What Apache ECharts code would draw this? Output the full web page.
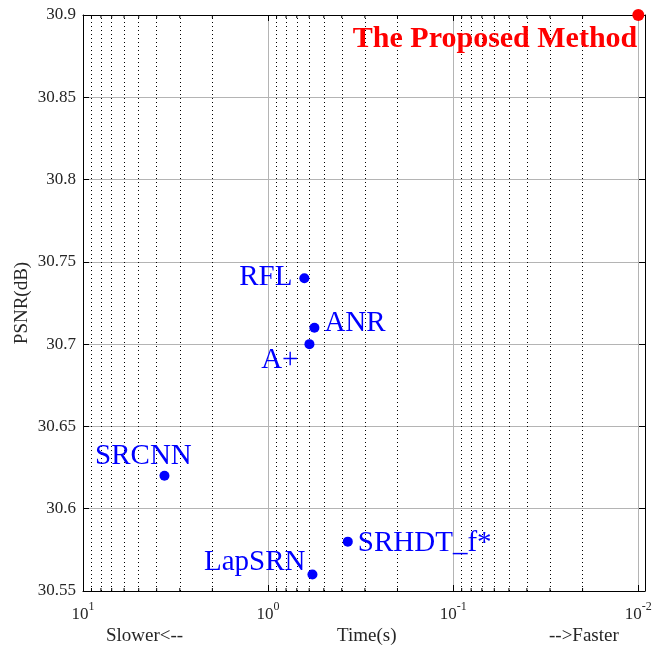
<!DOCTYPE html>
<html>
<head>
<meta charset="utf-8">
<script src="https://cdn.jsdelivr.net/npm/echarts@6/dist/echarts.min.js"></script>
<style>html,body{margin:0;padding:0;background:#fff;}#c{width:652px;height:654px;}</style>
</head>
<body>
<div id="c"></div>
<script>
// ---- data ----
const methods = ['RFL', 'ANR', 'A+', 'SRCNN', 'LapSRN', 'SRHDT_f*'];
const times   = [0.637, 0.562, 0.598, 3.63, 0.576, 0.371];
const psnr    = [30.74, 30.71, 30.70, 30.62, 30.56, 30.58];
const proposedName = ['The Proposed Method'];
const proposedTime = [0.01];
const proposedPsnr = [30.9];
const yTicks = [30.55, 30.6, 30.65, 30.7, 30.75, 30.8, 30.85, 30.9];
const decades = [0.01, 0.1, 1];
const minorMultipliers = [2, 3, 4, 5, 6, 7, 8, 9];

// minor log ticks (2..9 x each decade)
const minorVals = [];
decades.forEach(d => minorMultipliers.forEach(m => minorVals.push(+(d * m).toPrecision(3))));

// ---- label placement (style only) ----
const labelStyle = {
  'RFL':      { align: 'right', offset: [-12, -1] },
  'ANR':      { align: 'left',  offset: [10, -4] },
  'A+':       { align: 'right', offset: [-11, 16] },
  'SRCNN':    { align: 'center', offset: [-21, -19] },
  'LapSRN':   { align: 'right', offset: [-7, -12] },
  'SRHDT_f*': { align: 'left',  offset: [10, 2] }
};

const FONT = "'Liberation Serif', 'Times New Roman', serif";
const TXT = '#262626';

const chart = echarts.init(document.getElementById('c'), null, { renderer: 'canvas' });

function xLabel(v) {
  const l = Math.log10(v);
  const e = Math.round(l);
  if (Math.abs(l - e) > 1e-6) return '';
  return '{b|10}{s|' + e + '}';
}

const xCommon = {
  type: 'log', logBase: 10, min: 0.0092, max: 10, inverse: true
};

const blueData = methods.map((m, i) => ({
  value: [times[i], psnr[i]],
  name: m,
  label: {
    show: true, position: 'inside', formatter: m,
    align: labelStyle[m].align, offset: labelStyle[m].offset,
    color: '#0000ff', fontFamily: FONT, fontSize: 29, opacity: 1
  }
}));

const redData = proposedName.map((m, i) => ({
  value: [proposedTime[i], proposedPsnr[i]],
  name: m,
  label: {
    show: true, position: 'inside', formatter: m,
    align: 'right', offset: [-1, 24],
    color: '#ff0000', fontFamily: FONT, fontSize: 30, fontWeight: 'bold', opacity: 1
  }
}));

const yMin = yTicks[0], yMax = yTicks[yTicks.length - 1];
const minorTickBottom = minorVals.map(v => [v, yMin]);
const minorTickTop = minorVals.map(v => [v, yMax]);

chart.setOption({
  animation: false,
  backgroundColor: '#fff',
  grid: { left: 83, right: 7, top: 15, bottom: 63, show: false, containLabel: false, outerBoundsMode: 'none' },
  xAxis: [
    Object.assign({}, xCommon, {
      position: 'bottom',
      axisLine: { show: true, onZero: false, lineStyle: { color: '#000', width: 1 } },
      axisTick: { show: true, inside: true, length: 6, lineStyle: { color: '#000' } },
      minorTick: { show: false },
      splitLine: { show: true, lineStyle: { color: '#b4b4b4', width: 1 } },
      axisLabel: {
        show: true, margin: 10, formatter: xLabel, color: TXT, fontFamily: FONT,
        rich: {
          b: { fontSize: 17, lineHeight: 22, fontFamily: FONT, color: TXT, verticalAlign: 'bottom' },
          s: { fontSize: 12, lineHeight: 12, fontFamily: FONT, color: TXT, verticalAlign: 'top' }
        }
      }
    }),
    Object.assign({}, xCommon, {
      position: 'top',
      axisLine: { show: true, onZero: false, lineStyle: { color: '#000', width: 1 } },
      axisTick: { show: true, inside: true, length: 6, lineStyle: { color: '#000' } },
      splitLine: { show: false },
      axisLabel: { show: false }
    })
  ],
  yAxis: [
    {
      type: 'value', min: yMin, max: yMax, interval: 0.05,
      position: 'left',
      name: 'PSNR(dB)', nameLocation: 'middle', nameGap: 51, nameMoveOverlap: false,
      nameTextStyle: { color: TXT, fontFamily: FONT, fontSize: 19 },
      axisLine: { show: true, onZero: false, lineStyle: { color: '#000', width: 1 } },
      axisTick: { show: true, inside: true, length: 6, lineStyle: { color: '#000' } },
      splitLine: { show: true, lineStyle: { color: '#b4b4b4', width: 1 } },
      axisLabel: {
        margin: 7, color: TXT, fontFamily: FONT, fontSize: 17,
        formatter: v => String(+v.toFixed(2))
      }
    },
    {
      type: 'value', min: yMin, max: yMax, interval: 0.05,
      position: 'right',
      axisLine: { show: true, onZero: false, lineStyle: { color: '#000', width: 1 } },
      axisTick: { show: true, inside: true, length: 6, lineStyle: { color: '#000' } },
      splitLine: { show: false },
      axisLabel: { show: false }
    }
  ],
  graphic: [
    { type: 'text', left: 106, top: 627, style: { text: 'Slower<--', fill: TXT, font: "19px " + FONT } },
    { type: 'text', left: 337, top: 627, style: { text: 'Time(s)', fill: TXT, font: "19px " + FONT } },
    { type: 'text', left: 549, top: 627, style: { text: '-->Faster', fill: TXT, font: "19px " + FONT } }
  ],
  series: [
    {
      type: 'scatter', xAxisIndex: 0, yAxisIndex: 0, data: [], silent: true, z: 1,
      markLine: {
        silent: true, symbol: 'none', animation: false,
        label: { show: false },
        lineStyle: { color: '#000', type: [1, 3], width: 1, opacity: 1 },
        data: minorVals.map(v => ({ xAxis: v }))
      }
    },
    {
      type: 'scatter', xAxisIndex: 0, yAxisIndex: 0, clip: false, silent: true, z: 3,
      symbol: 'rect', symbolSize: [1, 3], symbolOffset: [0, -1.5],
      itemStyle: { color: '#000', opacity: 1 },
      data: minorTickBottom
    },
    {
      type: 'scatter', xAxisIndex: 0, yAxisIndex: 0, clip: false, silent: true, z: 3,
      symbol: 'rect', symbolSize: [1, 3], symbolOffset: [0, 1.5],
      itemStyle: { color: '#000', opacity: 1 },
      data: minorTickTop
    },
    {
      type: 'scatter', xAxisIndex: 0, yAxisIndex: 0, clip: false,
      symbol: 'circle', symbolSize: 10,
      itemStyle: { color: '#0000ff', opacity: 1 },
      data: blueData, z: 5
    },
    {
      type: 'scatter', xAxisIndex: 0, yAxisIndex: 0, clip: false,
      symbol: 'circle', symbolSize: 12,
      itemStyle: { color: '#ff0000', opacity: 1 },
      data: redData, z: 6
    }
  ]
});
</script>
</body>
</html>
